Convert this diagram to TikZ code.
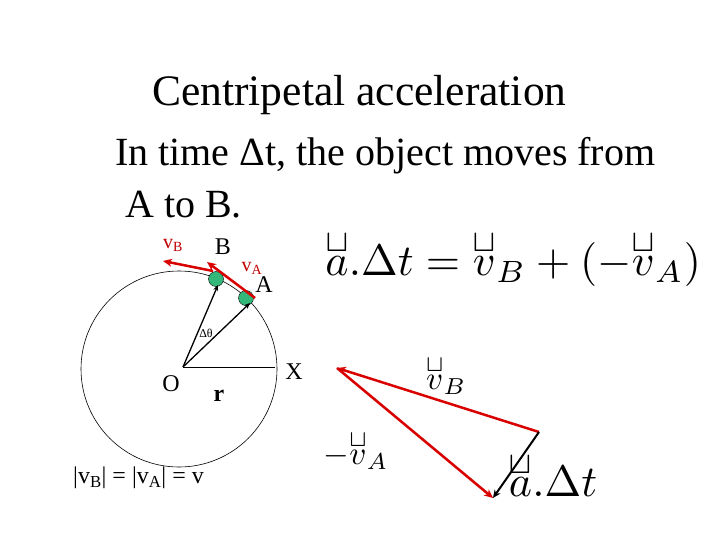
\documentclass[tikz,border=0pt]{standalone}
\usepackage{amsmath,amssymb,graphicx}
\usepackage{fontspec}
\setmainfont{Liberation Serif}
\tikzset{
  redarr/.style={draw=red!85!black, line width=2.5pt, -{Stealth[length=9pt,width=8pt]}},
  blkarr/.style={draw=black, line width=2pt, -{Stealth[length=8pt,width=7pt]}},
  radarr/.style={draw=black, line width=1.3pt, -{Stealth[length=6pt,width=5pt]}},
  ball/.style={circle, fill=teal!70!green!80, draw=black, minimum size=15pt, inner sep=0pt},
  lbl/.style={inner sep=0pt, font=\fontsize{24}{26}\selectfont},
  rlbl/.style={inner sep=0pt, text=red!75!black, font=\fontsize{20}{22}\selectfont},
  mth/.style={inner sep=0pt}
}
\usetikzlibrary{arrows.meta}
\newcommand{\vecu}[1]{\overset{\raisebox{-4pt}{$\scriptstyle\sqcup$}}{#1}}
\begin{document}
\begin{tikzpicture}[x=1pt,y=-1pt]
\useasboundingbox (0,0) rectangle (720,540);
\node[anchor=west, inner sep=0pt, font=\fontsize{43.5}{45}\selectfont] (title) at (152,95) {Centripetal acceleration};
\node[anchor=west, inner sep=0pt, font=\fontsize{40}{42}\selectfont] (l1) at (115,156) {In time Δt, the object moves from};
\node[anchor=west, inner sep=0pt, font=\fontsize{40}{42}\selectfont] (l2) at (125,205) {A to B.};
% circle
\draw[line width=0.6pt] (179,369) circle (98);
\coordinate (O) at (183,367);
\coordinate (X) at (275,367);
\draw[line width=1pt] (O) -- (X);
\node[ball] (bB) at (216,279) {};
\node[ball] (bA) at (246,298) {};
\draw[radarr] (O) -- (218,285);
\draw[radarr] (O) -- (250,303);
\draw[redarr] (213,271) coordinate (sB) -- (163,261) coordinate (eB);
\draw[redarr] (255,298) coordinate (sA) -- (207,262) coordinate (eA);
\node[lbl] (Bl) at (223,247) {B};
\node[lbl] (Al) at (264,285) {A};
\node[rlbl] (vB) at (173,245) {v\textsubscript{B}};
\node[rlbl] (vA) at (252,268) {v\textsubscript{A}};
\node[inner sep=0pt, font=\fontsize{12}{12}\selectfont] (dth) at (206,333) {Δθ};
\node[lbl] (Ol) at (171,384) {O};
\node[lbl, font=\bfseries\fontsize{24}{26}\selectfont] (rl) at (219,396) {r};
\node[lbl] (Xl) at (294,372) {X};
\node[lbl, anchor=west] (eq) at (73,478) {|v\textsubscript{B}| = |v\textsubscript{A}| = v};
% equation
\node[mth, anchor=west] (eqn) at (325,258) {\scalebox{4.4}{$\vecu{a}.\Delta t=\vecu{v}_B+(-\vecu{v}_A)$}};
% triangle
\coordinate (T1) at (539,432);
\coordinate (T2) at (337,368);
\coordinate (T3) at (493,498);
\draw[redarr] (T1) -- (T2);
\draw[redarr] (T2) -- (T3);
\draw[blkarr] (T1) -- (T3);
\node[mth] (tvB) at (446,375) {\scalebox{3.3}{$\vecu{v}_B$}};
\node[mth] (tvA) at (356,450) {\scalebox{3.3}{$-\vecu{v}_A$}};
\node[mth] (tat) at (553,474) {\scalebox{4.4}{$\vecu{a}.\Delta t$}};
\end{tikzpicture}
\end{document}
